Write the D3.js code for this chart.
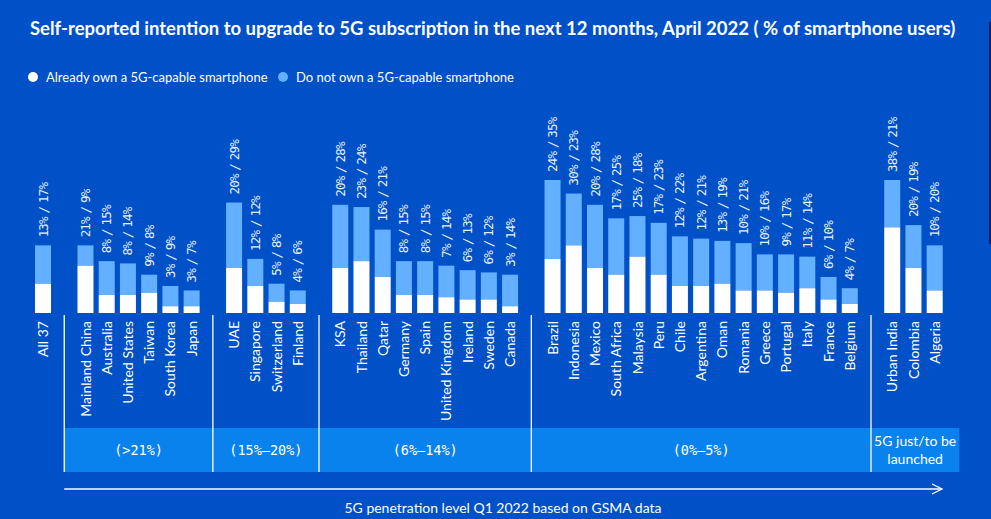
<!DOCTYPE html>
<html><head><meta charset="utf-8">
<script src="https://cdn.jsdelivr.net/npm/d3@7"></script>
<style>
html,body{margin:0;padding:0;background:#0050c8;overflow:hidden}
svg{display:block}
</style>
</head><body>
<svg id="chart" width="991" height="519"></svg>
<script>
const countries = ["All 37",
  "Mainland China","Australia","United States","Taiwan","South Korea","Japan",
  "UAE","Singapore","Switzerland","Finland",
  "KSA","Thailand","Qatar","Germany","Spain","United Kingdom","Ireland","Sweden","Canada",
  "Brazil","Indonesia","Mexico","South Africa","Malaysia","Peru","Chile","Argentina","Oman","Romania","Greece","Portugal","Italy","France","Belgium",
  "Urban India","Colombia","Algeria"];
const alreadyOwn = [13, 21,8,8,9,3,3, 20,12,5,4, 20,23,16,8,8,7,6,6,3,
  24,30,20,17,25,17,12,12,13,10,10,9,11,6,4, 38,20,10];
const notOwn = [17, 9,15,14,8,9,7, 29,12,8,6, 28,24,21,15,15,14,13,12,14,
  35,23,28,25,18,23,22,21,19,21,16,17,14,10,7, 21,19,20];
const groupSizes = [1,6,4,9,15,3];
const groupLabels = [null,["(>21%)"],["(15%–20%)"],["(6%–14%)"],["(0%–5%)"],["5G just/to be","launched"]];
const seriesNames = ["Already own a 5G-capable smartphone","Do not own a 5G-capable smartphone"];
const titleText = "Self-reported intention to upgrade to 5G subscription in the next 12 months, April 2022 ( % of smartphone users)";
const axisText = "5G penetration level Q1 2022 based on GSMA data";

const colors = {bg:"#0050c8", own:"#ffffff", notOwn:"#62b0ff", band:"#0a82ee", text:"#ffffff"};
const svg = d3.select("#chart");
svg.append("rect").attr("width",991).attr("height",519).attr("fill",colors.bg);
svg.append("rect").attr("x",989).attr("y",22).attr("width",2).attr("height",222).attr("fill","#06206e");

// build domain with gap slots between groups
const domain = [];
const gaps = [];
let idx = 0;
groupSizes.forEach((n,g)=>{
  if(g>0){ const k="gap"+g; domain.push(k); gaps.push(k); }
  for(let i=0;i<n;i++) domain.push(countries[idx++]);
});
const x = d3.scaleBand().domain(domain).range([32.4,945.3]).paddingInner(0.246).paddingOuter(0.123);
const y = d3.scaleLinear().domain([0,59]).range([313,180]);
const bw = x.bandwidth();

const data = countries.map((c,i)=>({c, a:alreadyOwn[i], b:notOwn[i]}));

// bars
const g = svg.append("g");
g.selectAll("rect.nb").data(data).join("rect")
  .attr("x",d=>x(d.c)).attr("width",bw)
  .attr("y",d=>y(d.a+d.b)).attr("height",d=>y(d.a)-y(d.a+d.b))
  .attr("fill",colors.notOwn);
g.selectAll("rect.ob").data(data).join("rect")
  .attr("x",d=>x(d.c)).attr("width",bw)
  .attr("y",d=>y(d.a)).attr("height",d=>y(0)-y(d.a))
  .attr("fill",colors.own);

// value labels
g.selectAll("text.v").data(data).join("text")
  .attr("transform",d=>`translate(${x(d.c)+bw/2},${y(d.a+d.b)-8}) rotate(-90)`)
  .attr("dy","0.36em")
  .attr("text-anchor","start")
  .attr("fill","#eaf2ff")
  .style("font-family","'DejaVu Sans Mono', monospace")
  .style("font-size","12.5px")
  .style("letter-spacing","-0.8px")
  .style("word-spacing","-3px")
  .text(d=>`${d.a}% / ${d.b}%`);

// country labels
g.selectAll("text.c").data(data).join("text")
  .attr("transform",d=>`translate(${x(d.c)+bw/2},321) rotate(-90)`)
  .attr("dy","0.36em")
  .attr("text-anchor","end")
  .attr("fill",colors.text)
  .style("font-family","Lato, sans-serif")
  .style("font-size","14px")
  .text(d=>d.c);

// group band + dividers
const divX = gaps.map(k=>x(k)+bw/2);
const bandRight = x.range()[1]+14;
const bandTop = 428, bandBottom = 472;
svg.append("rect").attr("x",divX[0]).attr("y",bandTop).attr("width",bandRight-divX[0]).attr("height",bandBottom-bandTop).attr("fill",colors.band);
svg.selectAll("line.div").data(divX).join("line")
  .attr("x1",d=>d).attr("x2",d=>d).attr("y1",315).attr("y2",bandBottom)
  .attr("stroke","#ffffff").attr("stroke-width",1.3);

// group labels
const edges = divX.concat([bandRight]);
groupLabels.forEach((lab,i)=>{
  if(!lab) return;
  const cx = (edges[i-1]+edges[i])/2;
  const mono = lab.length===1;
  const t = svg.append("text").attr("x",cx).attr("text-anchor","middle").attr("fill",colors.text)
    .style("font-family", mono ? "'DejaVu Sans Mono', monospace" : "Lato, sans-serif")
    .style("font-size", mono ? "13.5px" : "14px");
  if(mono){ t.attr("y",(bandTop+bandBottom)/2).attr("dy","0.36em").text(lab[0]); }
  else {
    lab.forEach((l,j)=>t.append("tspan").attr("x",cx).attr("y",(bandTop+bandBottom)/2+(j-0.5)*18).attr("dy","0.36em").text(l));
  }
});

// arrow
svg.append("line").attr("x1",divX[0]).attr("x2",942).attr("y1",489).attr("y2",489).attr("stroke","#fff").attr("stroke-width",1.3);
svg.append("path").attr("d","M932,484 L942,489 L932,494").attr("fill","none").attr("stroke","#fff").attr("stroke-width",1.3);
svg.append("text").attr("x",503).attr("y",513).attr("text-anchor","middle").attr("fill",colors.text)
  .style("font-family","Lato, sans-serif").style("font-size","14px").text(axisText);

// title
svg.append("text").attr("x",30).attr("y",35).attr("fill",colors.text)
  .style("font-family","Lato, sans-serif").style("font-size","18.5px").style("font-weight","700")
  .text(titleText);

// legend
const legX = [33, 283];
seriesNames.forEach((n,i)=>{
  svg.append("circle").attr("cx",legX[i]).attr("cy",77).attr("r",5).attr("fill",i===0?colors.own:colors.notOwn);
  svg.append("text").attr("x",legX[i]+13).attr("y",77).attr("dy","0.36em").attr("fill",colors.text)
    .style("font-family","Lato, sans-serif").style("font-size","13px").text(n);
});
</script>
</body></html>
